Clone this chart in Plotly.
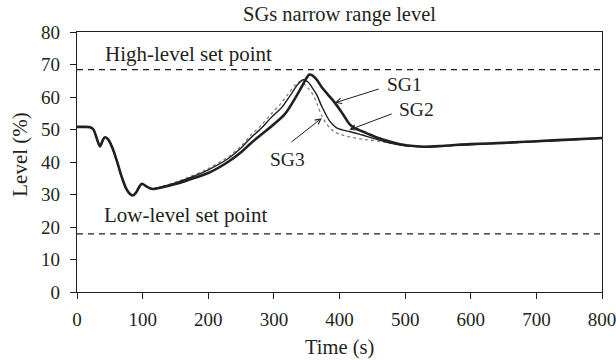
import plotly.graph_objects as go

# ---------------- data ----------------
time_early = [0, 10, 20, 25, 30, 35, 40, 43, 48, 55, 62, 68, 75, 80, 85, 90, 95, 99, 105, 110, 116]
level_early = [50.8, 50.8, 50.7, 50.0, 47.3, 44.8, 47.0, 47.6, 46.8, 43.8, 39.5, 35.5, 31.8, 30.3, 29.7,
               30.6, 32.4, 33.3, 32.6, 32.0, 31.7]

time_sg1 = [130, 150, 170, 200, 230, 250, 265, 280, 300, 317, 330, 342, 350, 354, 358, 365, 373, 383,
            393, 405, 416, 430, 441, 460, 477, 495, 513, 530, 560, 600, 650, 700, 750, 800]
level_sg1 = [32.2, 33.2, 34.5, 36.6, 40.0, 43.0, 45.8, 48.3, 51.6, 54.8, 58.8, 63.0, 65.9, 66.9, 66.7,
             65.4, 63.0, 60.6, 58.2, 54.8, 51.5, 49.8, 48.9, 47.3, 46.3, 45.4, 44.9, 44.7, 45.0, 45.5,
             45.9, 46.4, 46.9, 47.4]

time_sg2 = [130, 150, 170, 200, 230, 250, 265, 280, 295, 312, 325, 337, 345, 352, 358, 365, 373, 385,
            395, 404, 416, 430, 441, 460, 477, 495, 513, 530, 560, 600, 650, 700, 750, 800]
level_sg2 = [32.4, 33.6, 35.0, 37.6, 41.0, 44.3, 47.5, 50.2, 53.5, 56.8, 60.5, 64.0, 65.3, 64.6, 63.0,
             60.8, 57.1, 52.6, 50.6, 49.9, 49.3, 48.6, 47.9, 46.8, 45.8, 45.1, 44.8, 44.6, 44.9, 45.4,
             45.8, 46.3, 46.8, 47.3]

time_sg3 = [130, 150, 170, 200, 230, 250, 265, 280, 295, 309, 322, 333, 340, 346, 353, 360, 366, 373,
            381, 391, 403, 416, 440, 467, 490, 513, 530, 560, 600, 650, 700, 750, 800]
level_sg3 = [32.5, 33.8, 35.3, 38.0, 41.5, 44.9, 48.3, 51.2, 54.6, 57.6, 61.0, 63.8, 64.7, 64.0, 62.5,
             60.5, 57.8, 54.2, 51.5, 49.4, 48.4, 47.7, 46.9, 46.2, 45.4, 45.0, 44.8, 45.0, 45.4, 45.8,
             46.3, 46.8, 47.3]

setpoint_range = [0, 800]
high_setpoint = 68.4
low_setpoint = 17.9

INK = "#231f20"
FONT = "Liberation Serif"

fig = go.Figure()

for y in (high_setpoint, low_setpoint):
    fig.add_trace(go.Scatter(x=setpoint_range, y=[y, y], mode="lines",
                             line=dict(color=INK, width=1.2, dash="6px,5px"),
                             hoverinfo="skip", showlegend=False))

series = [
    ("SG3", time_sg3, level_sg3, dict(color="#808080", width=1.3, dash="dot")),
    ("SG2", time_sg2, level_sg2, dict(color=INK, width=1.4)),
    ("SG1", time_sg1, level_sg1, dict(color=INK, width=2.6)),
]
for name, t, v, ln in series:
    fig.add_trace(go.Scatter(x=time_early + t, y=level_early + v, mode="lines", name=name,
                             line=dict(shape="spline", smoothing=0.9, **ln), showlegend=False))

# arrows (tip, tail)
arrows = [((393, 58.2), (462, 62.6)),
          ((415, 49.9), (482, 55.0)),
          ((373, 53.5), (324.5, 45.8))]
for (x, y), (ax, ay) in arrows:
    fig.add_annotation(x=x, y=y, ax=ax, ay=ay, xref="x", yref="y", axref="x", ayref="y",
                       text="", showarrow=True, arrowhead=5, arrowsize=1.1, arrowwidth=1,
                       arrowcolor=INK)

labels = [("SG1", 469, 63.8, "left"), ("SG2", 487, 56.1, "left"), ("SG3", 320, 40.7, "center"),
          ("High-level set point", 39.5, 73.3, "left"), ("Low-level set point", 38.8, 23.8, "left")]
for txt, x, y, anc in labels:
    fig.add_annotation(x=x, y=y, xref="x", yref="y", text=txt, showarrow=False,
                       xanchor=anc, yanchor="middle",
                       font=dict(family=FONT, size=21 if "set" in txt else 19.5, color=INK))

fig.add_annotation(x=0.5, y=1.068, xref="paper", yref="paper", text="SGs narrow range level",
                   showarrow=False, xanchor="center", yanchor="middle",
                   font=dict(family=FONT, size=20.5, color=INK))
fig.add_annotation(x=0.5, y=-0.214, xref="paper", yref="paper", text="Time (s)",
                   showarrow=False, xanchor="center", yanchor="middle",
                   font=dict(family=FONT, size=20.5, color=INK))
fig.add_annotation(x=-0.109, y=0.531, xref="paper", yref="paper", text="Level (%)", textangle=-90,
                   showarrow=False, xanchor="center", yanchor="middle",
                   font=dict(family=FONT, size=21, color=INK))

axis_common = dict(showline=True, linecolor=INK, linewidth=1.3, mirror=True, showgrid=False,
                   zeroline=False, ticks="outside", ticklen=6, tickwidth=1.2, tickcolor=INK,
                   tickfont=dict(family=FONT, size=19, color=INK), ticklabeloverflow="allow",
                   automargin=False)
fig.update_xaxes(range=[0, 800], dtick=100, tick0=0, ticklabelstandoff=4, **axis_common)
fig.update_yaxes(range=[0, 80], dtick=10, tick0=0, ticklabelstandoff=6, **axis_common)

fig.update_layout(width=616, height=360, margin=dict(l=77, r=14, t=32, b=68),
                  plot_bgcolor="white", paper_bgcolor="white",
                  font=dict(family=FONT, color=INK))

# remove the default 8px page margin so the 616x360 figure fills the window exactly
fig.write_html("out.html", config={"displayModeBar": False},
               post_script="document.body.style.margin='0';")
